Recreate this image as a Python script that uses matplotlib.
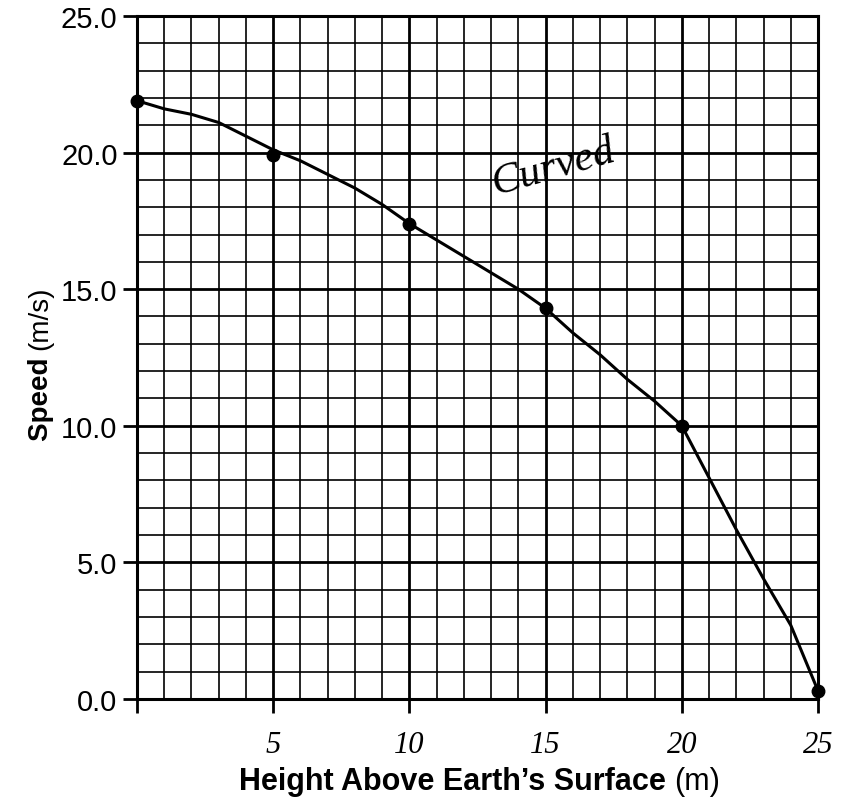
import matplotlib.pyplot as plt
import numpy as np

# measured points (dots)
height = [0, 5, 10, 15, 20, 25]
speed = [21.9, 19.9, 17.4, 14.3, 10.0, 0.3]

# hand drawn curve, read at every metre
curve_h = list(range(26))
curve_v = [21.9, 21.6, 21.4, 21.1, 20.6, 20.1, 19.7, 19.2, 18.7, 18.1,
           17.4, 16.8, 16.2, 15.6, 15.0, 14.3, 13.4, 12.6, 11.7, 10.9,
           10.0, 8.1, 6.2, 4.4, 2.7, 0.3]

xtick_labels = ['5', '10', '15', '20', '25']
ytick_labels = ['0.0', '5.0', '10.0', '15.0', '20.0', '25.0']

plt.rcParams['font.family'] = ['Liberation Sans', 'DejaVu Sans']

fig = plt.figure(figsize=(8.44, 8.04), dpi=100)
ax = fig.add_axes([0.1623, 0.1294, 0.8069, 0.8495])

# graph paper grid
for v in range(26):
    lw = 2.0 if v % 5 == 0 else 1.2
    ax.axvline(v, color='black', lw=lw, zorder=1)
    ax.axhline(v, color='black', lw=lw, zorder=1)

ax.plot(curve_h, curve_v, color='black', lw=2.2, zorder=3,
        solid_joinstyle='round')
ax.plot(height, speed, 'o', color='black', markersize=9, zorder=4,
        clip_on=False)

ax.set_xlim(0, 25)
ax.set_ylim(0, 25)
for s in ax.spines.values():
    s.set_linewidth(2.2)

ax.set_yticks([0, 5, 10, 15, 20, 25])
ax.set_yticklabels(ytick_labels, fontsize=21)
ax.set_xticks([0, 5, 10, 15, 20, 25])
ax.set_xticklabels([''] + xtick_labels, fontsize=22, family='Liberation Serif',
                   style='italic')
ax.tick_params(axis='both', direction='out', length=10, width=2, colors='black')
ax.tick_params(axis='x', pad=12)
ax.tick_params(axis='y', pad=4)

ax.text(15.3, 19.5, 'Curved', fontsize=31, family='Liberation Serif',
        style='italic', rotation=16, ha='center', va='center', zorder=5)

# axis labels: bold name + normal unit
fig.canvas.draw()
r = fig.canvas.get_renderer()
xl = fig.text(0.5, 0.018, "Height Above Earth\u2019s Surface ", fontsize=22,
              weight='bold', ha='left', va='baseline')
xu = fig.text(0.5, 0.018, "(m)", fontsize=22, ha='left', va='baseline')
w1 = xl.get_window_extent(r).width / fig.bbox.width
w2 = xu.get_window_extent(r).width / fig.bbox.width
cx = 0.568
xl.set_x(cx - (w1 + w2) / 2)
xu.set_x(cx - (w1 + w2) / 2 + w1)

yl = fig.text(0.048, 0.5, "Speed ", fontsize=20, weight='bold', rotation=90,
              ha='center', va='bottom')
yu = fig.text(0.048, 0.5, "(m/s)", fontsize=20, rotation=90,
              ha='center', va='bottom')
h1 = yl.get_window_extent(r).height / fig.bbox.height
h2 = yu.get_window_extent(r).height / fig.bbox.height
cy = 0.548
yl.set_y(cy - (h1 + h2) / 2)
yu.set_y(cy - (h1 + h2) / 2 + h1)

fig.savefig('out.png', dpi=100)
